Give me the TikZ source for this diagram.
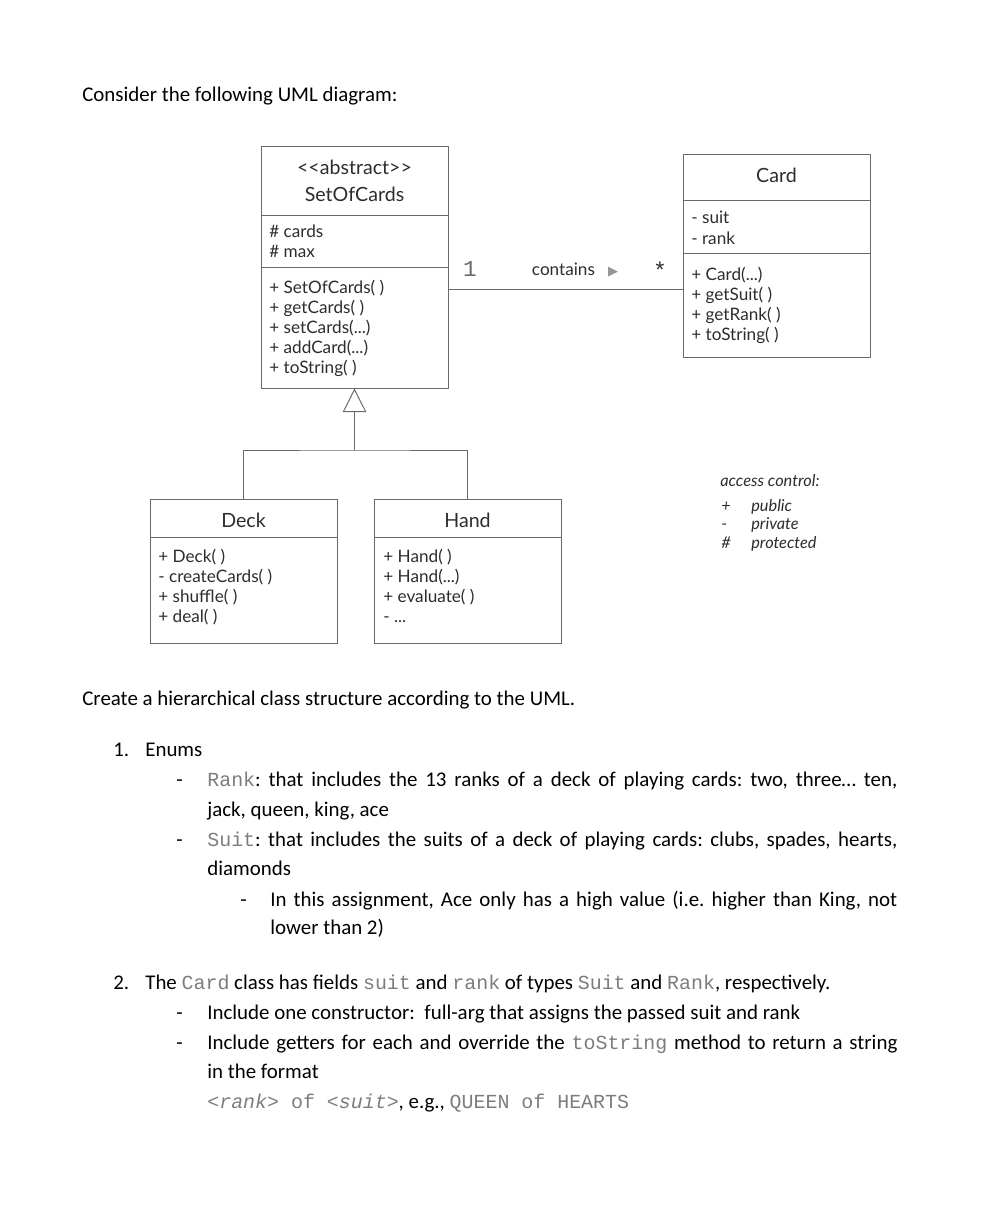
\documentclass[tikz,border=0pt]{standalone}
\usepackage{fontspec}
\setmainfont{Carlito}
\setmonofont{Liberation Mono}
\newfontfamily\umlfont{Lato}
\newfontfamily\symfont{DejaVu Sans}
\usetikzlibrary{arrows.meta,fit}
\definecolor{umlgray}{RGB}{105,105,105}
\definecolor{umltext}{RGB}{45,45,45}
\definecolor{codegray}{RGB}{125,125,125}
\definecolor{tipgray}{RGB}{150,150,150}

\newcommand{\code}[1]{{\color{codegray}\ttfamily\fontsize{12.2}{14}\selectfont #1}}
\newcommand{\jline}[2]{\makebox[#1][s]{#2}}
\newcommand{\ddd}{...}
\frenchspacing

\begin{document}
\begin{tikzpicture}[x=0.612pt,y=-0.612pt,
  classbox/.style={draw=umlgray,line width=0.6pt,inner sep=0pt},
  classname/.style={anchor=base,inner sep=0pt,text=umltext,font=\umlfont\fontsize{12}{14}\selectfont},
  member/.style={anchor=base west,inner sep=0pt,text=umltext,font=\umlfont\fontsize{10.5}{12}\selectfont},
  mult/.style={anchor=base,inner sep=0pt,text=umltext,font=\ttfamily\fontsize{14}{16}\selectfont},
  body/.style={anchor=base west,inner sep=0pt,font=\fontsize{12.8}{15}\selectfont},
  link/.style={draw=umlgray,line width=0.6pt}]
\useasboundingbox[fill=white] (0,0) rectangle (1000,1212);

% Text above the diagram
\node[body] (intro) at (82,102) {Consider the following UML diagram:};

% Abstract class
\node[classbox,fit={(261,146) (448,388)}] (soc) {};
\draw[link] (soc.west |- 0,215) -- (soc.east |- 0,215);
\draw[link] (soc.west |- 0,267) -- (soc.east |- 0,267);
\node[classname] (soc-st) at (354.5,175) {<{}<abstract>{}>};
\node[classname] (soc-name) at (354.5,201) {SetOfCards};
\node[member] (soc-a1) at (269,237) {\# cards};
\node[member] (soc-a2) at (269,257) {\# max};
\foreach \txt [count=\i] in {+ SetOfCards( ),+ getCards( ),+ setCards(\ddd),+ addCard(\ddd),+ toString( )}
  \node[member] (soc-m\i) at (269,273+20*\i) {\txt};

% Card class
\node[classbox,fit={(683,154) (870,357)}] (card) {};
\draw[link] (card.west |- 0,200) -- (card.east |- 0,200);
\draw[link] (card.west |- 0,253) -- (card.east |- 0,253);
\node[classname] (card-name) at (776.5,183) {Card};
\node[member] (card-a1) at (691,224) {- suit};
\node[member] (card-a2) at (691,244) {- rank};
\foreach \txt [count=\i] in {+ Card(\ddd),+ getSuit( ),+ getRank( ),+ toString( )}
  \node[member] (card-m\i) at (691,260+20*\i) {\txt};

% Association
\draw[link] (soc.east |- 0,289) -- (card.west |- 0,289);
\node[mult,text=umlgray] (one) at (470,276) {1};
\node[mult] (many) at (660,278) {*};
\node[member,anchor=base] (contains) at (575,275) {contains\hspace{8pt}{\color{tipgray}\symfont\fontsize{8}{8}\selectfont ▶}};

% Subclasses
\node[classbox,fit={(150,499) (337,643)}] (deck) {};
\draw[link] (deck.west |- 0,537) -- (deck.east |- 0,537);
\node[classname] (deck-name) at (243.5,527) {Deck};
\foreach \txt [count=\i] in {+ Deck( ),- createCards( ),+ shuffle( ),+ deal( )}
  \node[member] (deck-m\i) at (158,542+20*\i) {\txt};

\node[classbox,fit={(374,499) (561,643)}] (hand) {};
\draw[link] (hand.west |- 0,537) -- (hand.east |- 0,537);
\node[classname] (hand-name) at (467.5,527) {Hand};
\foreach \txt [count=\i] in {+ Hand( ),+ Hand(\ddd),+ evaluate( ),- \ddd}
  \node[member] (hand-m\i) at (383,542+20*\i) {\txt};

% Inheritance
\coordinate (join) at (354.5,450);
\draw[link] (deck.north) |- (join) -| (hand.north);
\draw[link,-{Triangle[open,length=14.5pt,width=14.5pt,fill=white]}] (join) -- (soc.south);

% Legend
\node[member,font=\umlfont\itshape\fontsize{10}{12}\selectfont] (legend) at (720,486) {access control:};
\foreach \sym/\word/\y [count=\i] in {+/public/511,-/private/529,\#/protected/548}{
  \node[member,font=\umlfont\itshape\fontsize{10}{12}\selectfont] (sym\i) at (721,\y) {\sym};
  \node[member,font=\umlfont\itshape\fontsize{10}{12}\selectfont] (word\i) at (751,\y) {\word};
}

% Task text
\node[body] (task) at (82,705) {Create a hierarchical class structure according to the UML.};
\node[body] (num1) at (113,756) {1.};
\node[body] (enums) at (145,756) {Enums};
\foreach \y [count=\i] in {786,846,1019,1049}
  \node[body] (dash\i) at (176,\y) {-};
\node[body] (dash5) at (240,906) {-};
\node[body] (rank1) at (207,786) {\jline{422.3pt}{\code{Rank}: that includes the 13 ranks of a deck of playing cards: two, three… ten,}};
\node[body] (rank2) at (207,816) {jack, queen, king, ace};
\node[body] (suit1) at (207,846) {\jline{422.3pt}{\code{Suit}: that includes the suits of a deck of playing cards: clubs, spades, hearts,}};
\node[body] (suit2) at (207,875) {diamonds};
\node[body] (ace1) at (270,906) {\jline{383.7pt}{In this assignment, Ace only has a high value (i.e. higher than King, not}};
\node[body] (ace2) at (270,934) {lower than 2)};

\node[body] (num2) at (113,989) {2.};
\node[body] (cardtxt) at (145,989) {The \code{Card} class has fields \code{suit} and \code{rank} of types \code{Suit} and \code{Rank}, respectively.};
\node[body] (ctor) at (207,1019) {Include one constructor:\ \ full-arg that assigns the passed suit and rank};
\node[body] (get1) at (207,1049) {\jline{422.3pt}{Include getters for each and override the \code{toString} method to return a string}};
\node[body] (get2) at (207,1078) {in the format};
\node[body] (fmt) at (207,1108) {\code{\textit{<rank>} of \textit{<suit>}}, e.g., \code{QUEEN of HEARTS}};
\end{tikzpicture}
\end{document}
